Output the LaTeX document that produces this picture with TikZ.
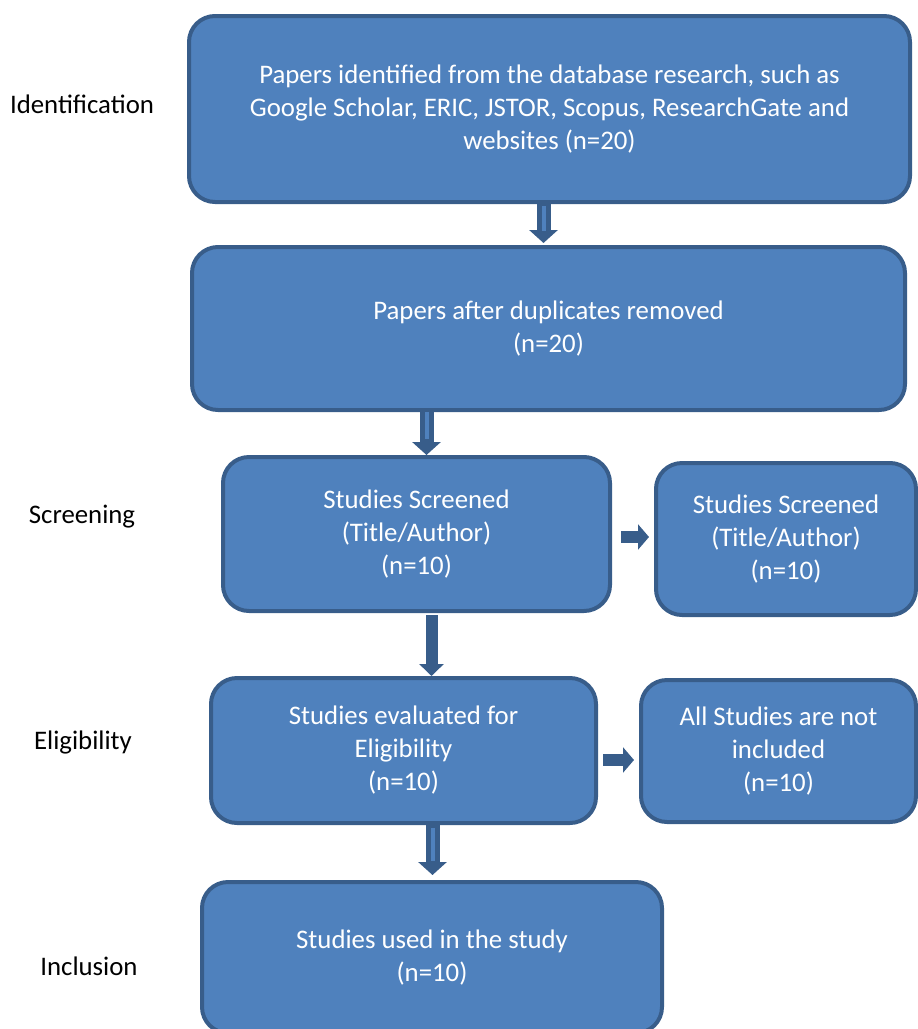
\documentclass[tikz,border=0pt]{standalone}
\usepackage{fontspec}
\setmainfont{Carlito}
\usetikzlibrary{arrows.meta,calc}
\definecolor{boxfill}{HTML}{4F81BD}
\definecolor{boxline}{HTML}{385D8A}
\begin{document}
\begin{tikzpicture}[x=1pt,y=1pt,
  font=\fontsize{26.8}{33}\selectfont,
  box/.style={draw=boxline, fill=boxfill, line width=4pt, rounded corners=26pt,
    text=white, align=center, inner sep=0pt},
  stage/.style={text=black, anchor=center},
  downarrow/.style={draw=boxline, line width=14pt,
    -{Triangle[width=28pt,length=13pt]}},
  stripe/.style={draw=boxfill, line width=4pt},
  rightarrow/.style={draw=boxline, line width=12pt,
    -{Triangle[width=25pt,length=11pt]}}]
\useasboundingbox (0,0) rectangle (918,-1029);

\node[box, minimum width=721pt, minimum height=186pt] (b1) at (549.5,-109)
  {Papers identified from the database research, such as\\
   Google Scholar, ERIC, JSTOR, Scopus, ResearchGate and\\
   websites (n=20)};
\node[box, minimum width=713pt, minimum height=163pt] (b2) at (548.5,-328.5)
  {Papers after duplicates removed\\(n=20)};
\node[box, minimum width=387pt, minimum height=154pt] (b3) at (416.5,-534)
  {Studies Screened\\(Title/Author)\\(n=10)};
\node[box, minimum width=260pt, minimum height=152pt] (b4) at (786,-539)
  {Studies Screened\\(Title/Author)\\(n=10)};
\node[box, minimum width=385pt, minimum height=145pt] (b5) at (403.5,-750.5)
  {Studies evaluated for\\Eligibility\\(n=10)};
\node[box, minimum width=275pt, minimum height=142pt] (b6) at (778.5,-751)
  {All Studies are not\\included\\(n=10)};
\node[box, minimum width=460pt, minimum height=151pt] (b7) at (432,-957.5)
  {Studies used in the study\\(n=10)};

\node[stage] (l1) at (82,-104) {Identification};
\node[stage] (l2) at (82,-517) {Screening};
\node[stage] (l3) at (83,-742) {Eligibility};
\node[stage] (l4) at (89,-966) {Inclusion};

% down arrows
\draw[downarrow, shorten <=-2pt, shorten >=2pt] ([xshift=-6pt]b1.south) -- ([xshift=-6pt]b1.south |- b2.north);
\draw[stripe, shorten <=2pt, shorten >=14pt] ([xshift=-6pt]b1.south) -- ([xshift=-6pt]b1.south |- b2.north);

\draw[downarrow, shorten <=-4pt, shorten >=0pt] ([xshift=10pt]b3.north |- b2.south) -- ([xshift=10pt]b3.north);
\draw[stripe, shorten <=0pt, shorten >=16pt] ([xshift=10pt]b3.north |- b2.south) -- ([xshift=10pt]b3.north);

\draw[downarrow, line width=12pt, -{Triangle[width=24pt,length=12pt]}, shorten <=2pt, shorten >=0pt] ([xshift=15pt]b3.south) -- ([xshift=15pt]b3.south |- b5.north);

\draw[downarrow, shorten <=-1pt, shorten >=5pt] ([xshift=29pt]b5.south) -- ([xshift=29pt]b5.south |- b7.north);
\draw[stripe, shorten <=3pt, shorten >=19pt] ([xshift=29pt]b5.south) -- ([xshift=29pt]b5.south |- b7.north);

% right arrows
\draw[rightarrow, shorten <=9pt, shorten >=5pt] ([yshift=-3pt]b3.east) -- ([yshift=-3pt]b3.east -| b4.west);
\draw[rightarrow, shorten <=5pt, shorten >=5pt] ([yshift=-9.5pt]b5.east) -- ([yshift=-9.5pt]b5.east -| b6.west);
\end{tikzpicture}
\end{document}
